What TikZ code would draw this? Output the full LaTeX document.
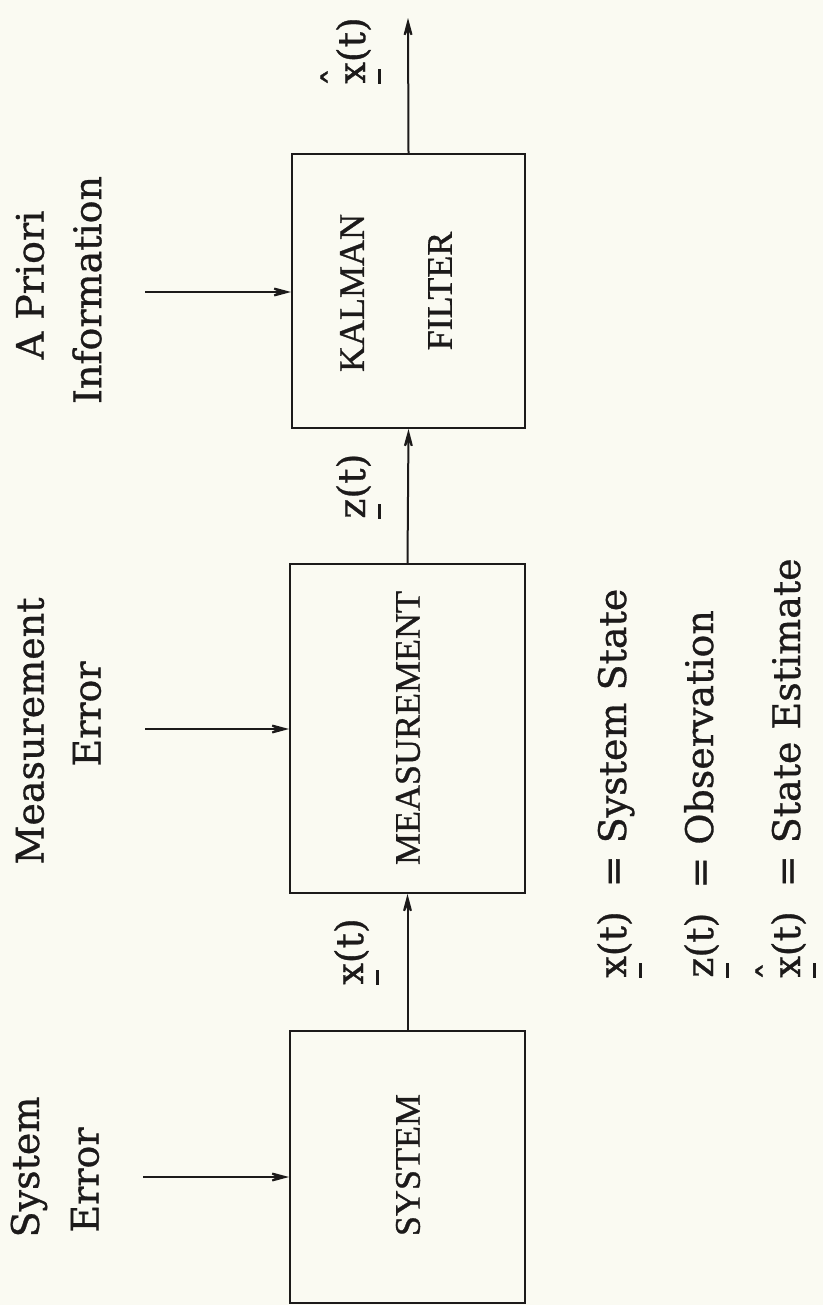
\documentclass[tikz,border=0pt]{standalone}
\usepackage{fontspec}
\setmainfont{DejaVu Serif}[FakeBold=0.8]
\newfontfamily\boxfont{Liberation Serif}[FakeBold=0.9]
\usetikzlibrary{arrows.meta}
\definecolor{paper}{RGB}{250,250,242}
\definecolor{ink}{RGB}{28,26,26}
\newcommand{\vecx}[1]{\makebox[0pt][l]{\raisebox{-8pt}{\rule{7.5pt}{1.4pt}}}#1}
\newcommand{\hatvx}{\makebox[0pt][l]{\hspace{-1.5pt}\raisebox{7pt}{ˆ}}\vecx{x}}
\begin{document}
\begin{tikzpicture}[x=0.5pt,y=-0.5pt,
  blk/.style={draw=ink, line width=1pt, inner sep=0pt},
  lbl/.style={rotate=90, inner sep=0pt, text=ink, font=\fontsize{19}{23}\selectfont},
  boxlbl/.style={rotate=90, inner sep=0pt, text=ink, font=\boxfont\fontsize{18}{22}\selectfont},
  arr/.style={draw=ink, line width=1pt, -{Stealth[length=13pt,width=7pt,inset=7pt]}}]
\fill[paper] (0,0) rectangle (823,1305);
\useasboundingbox (0,0) rectangle (823,1305);
% blocks
\node[blk, minimum width=116.5pt, minimum height=137pt] (kf) at (408.5,291) {};
\node[blk, minimum width=117.5pt, minimum height=164.5pt] (meas) at (407.5,728.5) {};
\node[blk, minimum width=117.5pt, minimum height=136pt] (sys) at (407.5,1167) {};
\node[boxlbl] (kal) at (352,293) {KALMAN};
\node[boxlbl] (fil) at (440,291) {FILTER};
\node[boxlbl] (mea) at (408,728) {MEASUREMENT};
\node[boxlbl] (sst) at (408,1165) {SYSTEM};
% input labels
\node[lbl] (se1) at (29,1167) {System};
\node[lbl] (se2) at (85,1180) {Error};
\node[lbl] (me1) at (30,731) {Measurement};
\node[lbl] (me2) at (87,714) {Error};
\node[lbl] (ap1) at (30,285) {A Priori};
\node[lbl] (ap2) at (87,290) {Information};
% input arrows
\coordinate (sein) at (143,1177);
\coordinate (mein) at (145,729);
\coordinate (apin) at (145,292);
\coordinate (out) at (408,18);
\draw[arr] (sein) -- (sein -| sys.west);
\draw[arr] (mein) -- (mein -| meas.west);
\draw[arr] (apin) -- (apin -| kf.west);
\draw[arr] (sys.north) -- (meas.south);
\draw[arr] (meas.north) -- (kf.south);
\draw[arr] (kf.north) -- (out);
% signal labels
\node[lbl, anchor=base west] (lx) at (363,985) {\vecx{x}(t)};
\node[lbl, anchor=base west] (lz) at (365,519) {\vecx{z}(t)};
\node[lbl, anchor=base west] (lxh) at (365,84) {\hatvx(t)};
% legend
\node[lbl, anchor=base west] (lg1) at (626,978) {\vecx{x}(t)\hspace{6pt} = System State};
\node[lbl, anchor=base west] (lg2) at (713,978) {\vecx{z}(t)\hspace{6pt} = Observation};
\node[lbl, anchor=base west] (lg3) at (800,978) {\hatvx(t)\hspace{6pt} = State Estimate};
\end{tikzpicture}
\end{document}
